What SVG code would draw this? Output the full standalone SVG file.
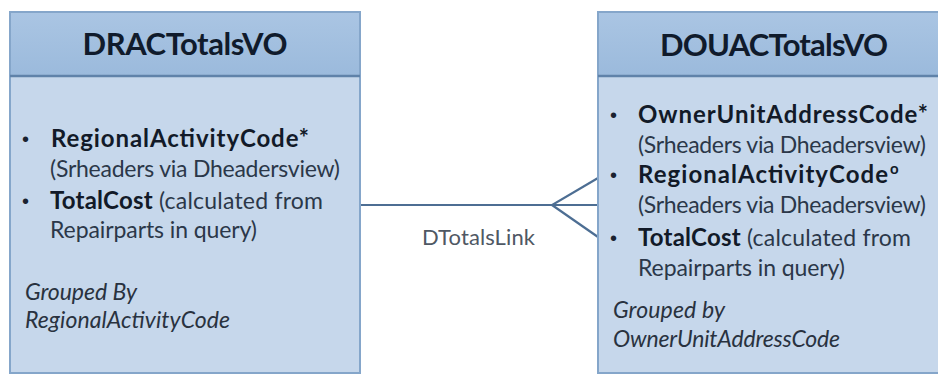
<svg xmlns="http://www.w3.org/2000/svg" width="938" height="377" viewBox="0 0 938 377">
<defs>
<linearGradient id="hdr" x1="0" y1="0" x2="0" y2="1">
<stop offset="0" stop-color="#aac5e3"/>
<stop offset="1" stop-color="#9bbadc"/>
</linearGradient>
<style>
.box{fill:#c6d7eb;stroke:#85a6ca;stroke-width:2}
.head{fill:url(#hdr)}
.div{stroke:#5f82a9;stroke-width:2.5}
.title{font-family:Lato,"Open Sans",sans-serif;font-weight:bold;font-size:31px;fill:#101b2c;text-anchor:middle}
.b{font-family:Lato,"Open Sans",sans-serif;font-weight:bold;font-size:24px;fill:#121a28}
.r{font-family:Lato,"Open Sans",sans-serif;font-size:23px;fill:#2b3749}
.i{font-family:Lato,"Open Sans",sans-serif;font-style:italic;font-size:23px;fill:#29323f}
.bul{font-family:"Liberation Sans",sans-serif;font-size:20px;fill:#1a2230}
.sup{font-family:Lato,"Open Sans",sans-serif;font-weight:bold;font-size:15px;fill:#121a28}
.conn{stroke:#4d6e93;stroke-width:2.2;fill:none}
.lbl{font-family:Lato,"Open Sans",sans-serif;font-size:22px;fill:#4f5864}
</style>
</defs>
<rect width="938" height="377" fill="#ffffff"/>
<g id="connectors">
<line class="conn" x1="360" y1="205" x2="598" y2="205"/>
<polyline class="conn" points="598,178 552,205 598,237"/>
<text class="lbl" x="422" y="245" textLength="113">DTotalsLink</text>
</g>
<g id="DRACTotalsVO">
<rect class="box" x="10" y="12" width="350" height="361"/>
<rect class="head" x="11" y="13" width="348" height="62"/>
<line class="div" x1="10" y1="76" x2="360" y2="76"/>
<text class="title" x="185" y="55" textLength="205">DRACTotalsVO</text>
<text class="bul" x="22" y="146">•</text>
<text class="b" x="51" y="147" textLength="258">RegionalActivityCode*</text>
<text class="r" x="50" y="177" textLength="290">(Srheaders via Dheadersview)</text>
<text class="bul" x="22" y="208">•</text>
<text x="50" y="209" textLength="273"><tspan class="b">TotalCost</tspan><tspan class="r"> (calculated from</tspan></text>
<text class="r" x="50" y="238" textLength="207">Repairparts in query)</text>
<text class="i" x="25" y="300" textLength="112">Grouped By</text>
<text class="i" x="25" y="328" textLength="205">RegionalActivityCode</text>
</g>
<g id="DOUACTotalsVO">
<rect class="box" x="598" y="12" width="352" height="361"/>
<rect class="head" x="599" y="13" width="350" height="62"/>
<line class="div" x1="598" y1="76" x2="950" y2="76"/>
<text class="title" x="774" y="56" textLength="228">DOUACTotalsVO</text>
<text class="bul" x="610" y="122">•</text>
<text class="b" x="638" y="123" textLength="290">OwnerUnitAddressCode*</text>
<text class="r" x="638" y="153" textLength="288">(Srheaders via Dheadersview)</text>
<text class="bul" x="610" y="182">•</text>
<text class="b" x="638" y="183" textLength="250">RegionalActivityCode</text>
<text class="sup" x="890" y="174">o</text>
<text class="r" x="638" y="213" textLength="288">(Srheaders via Dheadersview)</text>
<text class="bul" x="610" y="245">•</text>
<text x="638" y="246" textLength="273"><tspan class="b">TotalCost</tspan><tspan class="r"> (calculated from</tspan></text>
<text class="r" x="638" y="276" textLength="207">Repairparts in query)</text>
<text class="i" x="613" y="318" textLength="112">Grouped by</text>
<text class="i" x="613" y="347" textLength="227">OwnerUnitAddressCode</text>
</g>
</svg>
